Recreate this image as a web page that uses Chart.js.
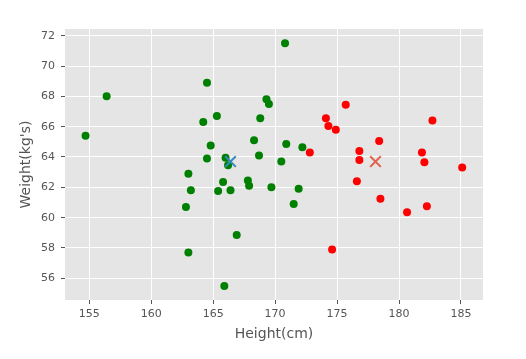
<!DOCTYPE html>
<html>
<head>
<meta charset="utf-8">
<script src="https://cdn.jsdelivr.net/npm/chart.js@4/dist/chart.umd.min.js"></script>
<style>
  body { margin: 0; background: #fff; }
  #wrap { width: 526px; height: 359px; position: relative; }
</style>
</head>
<body>
<div id="wrap"><canvas id="chart-clusters"></canvas></div>
<script>
// Cluster 1 (green)
const greenHeight = [154.7, 156.4, 164.5, 170.8, 165.3, 164.2, 169.3, 169.5, 168.8, 168.3, 170.9, 172.2, 164.8, 164.5, 166.0, 168.7,
  170.5, 166.2, 163.0, 163.2, 162.8, 165.8, 165.4, 166.4, 167.8, 167.9, 169.7, 171.9, 171.5, 166.9, 163.0, 165.9];
const greenWeight = [65.4, 68.0, 68.9, 71.5, 66.7, 66.3, 67.8, 67.5, 66.55, 65.1, 64.85, 64.65, 64.75, 63.9, 63.95, 64.1,
  63.7, 63.45, 62.9, 61.8, 60.7, 62.35, 61.75, 61.8, 62.45, 62.1, 62.0, 61.9, 60.9, 58.85, 57.7, 55.5];

// Cluster 2 (red)
const redHeight = [175.7, 174.1, 174.3, 174.9, 182.7, 172.8, 178.4, 176.8, 176.8, 181.85, 182.05, 185.1, 176.6, 178.5, 180.65, 182.25, 174.6];
const redWeight = [67.45, 66.55, 66.05, 65.8, 66.4, 64.3, 65.05, 64.4, 63.8, 64.3, 63.65, 63.3, 62.4, 61.25, 60.35, 60.75, 57.9];

// Centroids
const centroidHeight = [166.4, 178.1];
const centroidWeight = [63.7, 63.7];
const centroidColors = ["#348ABD", "#E24A33"];

const xTickStep = 5;
const yTickStep = 2;

const toPoints = (xs, ys) => xs.map((x, i) => ({ x, y: ys[i] }));

const tickFont = { family: "DejaVu Sans", size: 11 };
const labelFont = { family: "DejaVu Sans", size: 14 };
const textColor = "#555555";

new Chart(document.getElementById("chart-clusters").getContext("2d"), {
  type: "scatter",
  data: {
    datasets: [
      {
        label: "Centroid 1",
        data: toPoints(centroidHeight.slice(0, 1), centroidWeight.slice(0, 1)),
        pointStyle: "crossRot",
        pointRadius: 7.5,
        borderWidth: 2,
        borderColor: centroidColors[0],
        order: 0
      },
      {
        label: "Centroid 2",
        data: toPoints(centroidHeight.slice(1), centroidWeight.slice(1)),
        pointStyle: "crossRot",
        pointRadius: 7.5,
        borderWidth: 2,
        borderColor: "rgba(226, 74, 51, 0.85)",
        order: 0
      },
      {
        label: "Cluster 1",
        data: toPoints(greenHeight, greenWeight),
        backgroundColor: "#008000",
        borderWidth: 0,
        pointRadius: 4,
        order: 1
      },
      {
        label: "Cluster 2",
        data: toPoints(redHeight, redWeight),
        backgroundColor: "#ff0000",
        borderWidth: 0,
        pointRadius: 4,
        order: 1
      }
    ]
  },
  options: {
    responsive: true,
    maintainAspectRatio: false,
    animation: false,
    layout: { padding: { left: 0, right: 43, top: 0, bottom: 0 } },
    plugins: {
      legend: { display: false },
      tooltip: { enabled: false },
      title: {
        display: true,
        text: "K = 2 Clusters",
        color: "#ffffff",
        font: { family: "DejaVu Sans", size: 15, weight: "normal" },
        padding: { top: 8, bottom: 3 }
      }
    },
    scales: {
      x: {
        type: "linear",
        min: 153.04,
        max: 186.78,
        border: { display: false },
        grid: { color: "#ffffff", lineWidth: 1, tickColor: textColor, tickLength: 4 },
        ticks: { stepSize: xTickStep, includeBounds: false, color: textColor, font: tickFont, padding: 4 },
        title: { display: true, text: "Height(cm)", color: textColor, font: labelFont, padding: { top: 0, bottom: 16 } },
        afterFit: (scale) => { scale.height = 59; }
      },
      y: {
        type: "linear",
        min: 54.57,
        max: 72.44,
        border: { display: false },
        grid: { color: "#ffffff", lineWidth: 1, tickColor: textColor, tickLength: 4 },
        ticks: { stepSize: yTickStep, includeBounds: false, color: textColor, font: tickFont, padding: 6 },
        title: { display: true, text: "Weight(kg's)", color: textColor, font: labelFont, padding: { top: 18, bottom: 0 } },
        afterFit: (scale) => { scale.width = 65; }
      }
    }
  },
  plugins: [
    {
      id: "plotBackground",
      beforeDraw(chart) {
        const { ctx, chartArea } = chart;
        ctx.save();
        ctx.fillStyle = "#e5e5e5";
        ctx.fillRect(chartArea.left, chartArea.top, chartArea.width, chartArea.height);
        ctx.restore();
      }
    }
  ]
});
</script>
</body>
</html>
